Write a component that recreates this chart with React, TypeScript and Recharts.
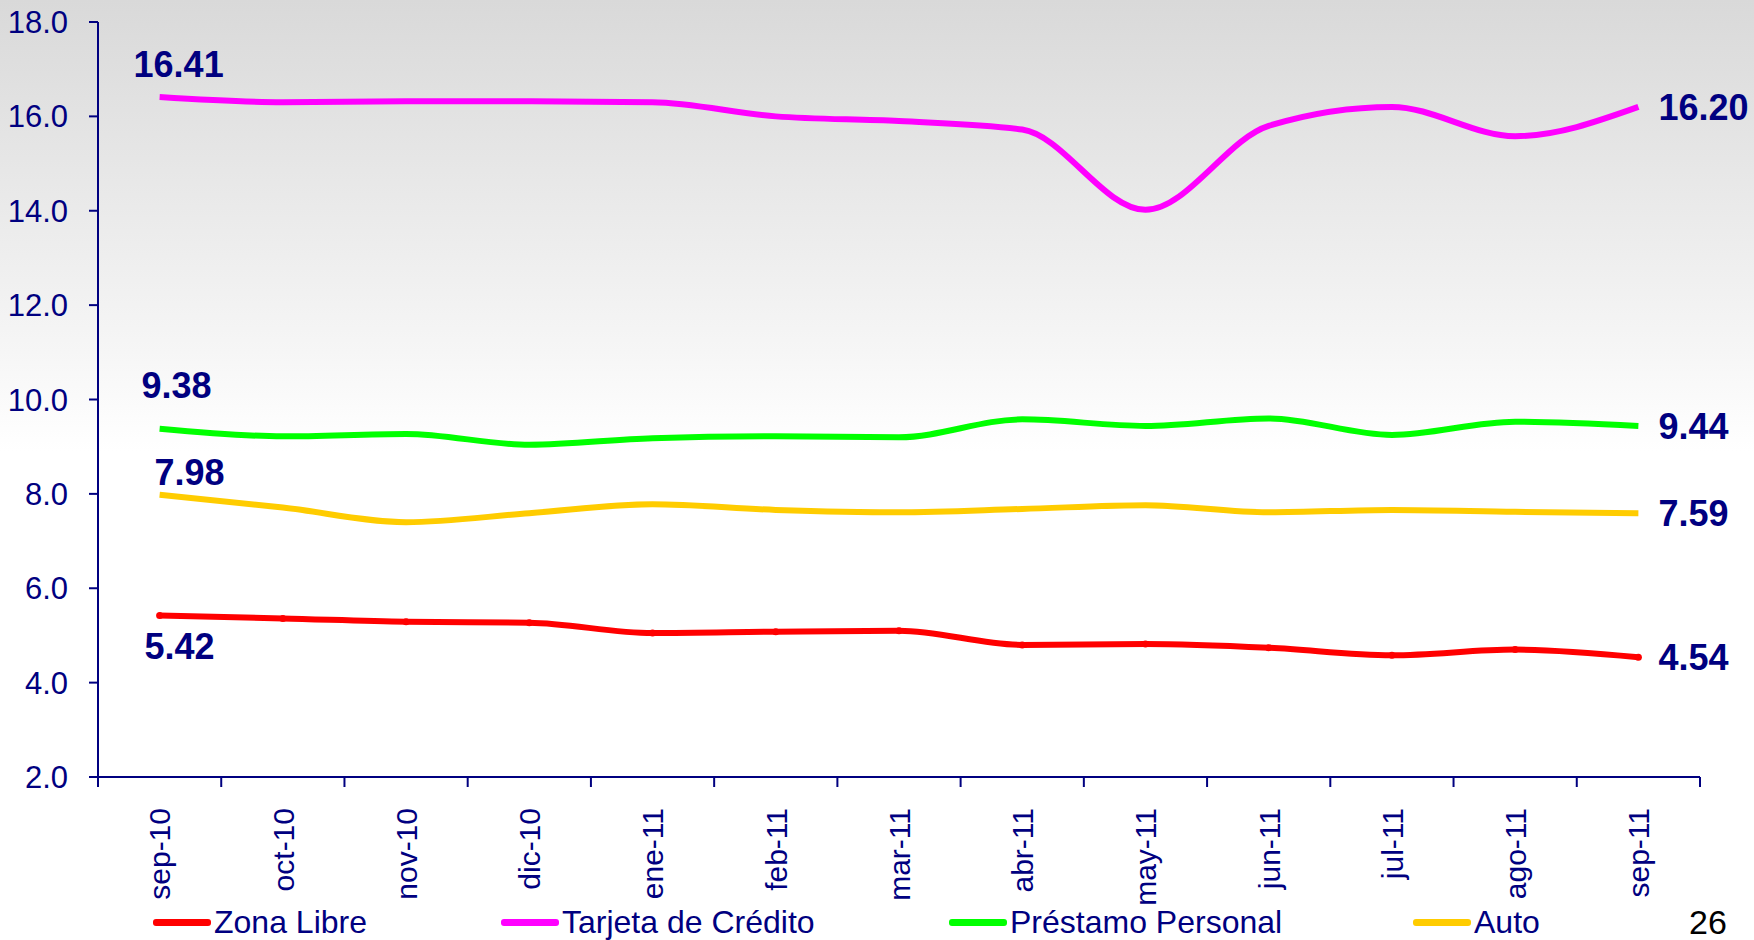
import { LabelList, Line, LineChart, XAxis, YAxis } from "recharts";

const months = [
  "sep-10", "oct-10", "nov-10", "dic-10", "ene-11", "feb-11", "mar-11",
  "abr-11", "may-11", "jun-11", "jul-11", "ago-11", "sep-11",
];
const zonaLibre = [5.42, 5.36, 5.29, 5.27, 5.05, 5.08, 5.1, 4.8, 4.82, 4.74, 4.58, 4.7, 4.54];
const tarjeta = [16.41, 16.3, 16.32, 16.32, 16.3, 16.0, 15.9, 15.72, 14.02, 15.8, 16.2, 15.58, 16.2];
const prestamo = [9.38, 9.22, 9.27, 9.04, 9.18, 9.22, 9.2, 9.58, 9.44, 9.6, 9.25, 9.53, 9.44];
const auto = [7.98, 7.71, 7.4, 7.59, 7.78, 7.66, 7.61, 7.68, 7.76, 7.61, 7.66, 7.62, 7.59];
const yTicks = [2, 4, 6, 8, 10, 12, 14, 16, 18];
// band edges, where the category tick marks sit
const edgeTicks = months.map((_, i) => i - 0.5).concat(months.length - 0.5);

const NAVY = "#000080";
const FONT = '"Liberation Sans", Arial, sans-serif';

const data = months.map((month, i) => ({
  month, i,
  zona: zonaLibre[i], tarjeta: tarjeta[i], prestamo: prestamo[i], auto: auto[i],
}));

// first-point label offset (dx from point to label centre, dy to baseline)
const series = [
  { key: "zona", name: "Zona Libre", color: "#ff0000", dx: 20, dy: 43, dot: true, legendX: 153 },
  { key: "tarjeta", name: "Tarjeta de Crédito", color: "#ff00ff", dx: 19, dy: -20, dot: false, legendX: 501 },
  { key: "prestamo", name: "Préstamo Personal", color: "#00ff00", dx: 17, dy: -31, dot: false, legendX: 949 },
  { key: "auto", name: "Auto", color: "#ffcc00", dx: 30, dy: -10, dot: false, legendX: 1413 },
];

const edgeLabel = (dx: number, dy: number) => (p: any) => {
  const { x, y, value, index } = p;
  if (index === 0) {
    return (
      <text x={x + dx} y={y + dy} textAnchor="middle" fill={NAVY} fontSize={36} fontWeight="bold" fontFamily={FONT}>
        {Number(value).toFixed(2)}
      </text>
    );
  }
  if (index === months.length - 1) {
    return (
      <text x={x + 20} y={y} dy="0.36em" textAnchor="start" fill={NAVY} fontSize={36} fontWeight="bold" fontFamily={FONT}>
        {Number(value).toFixed(2)}
      </text>
    );
  }
  return null;
};

const MonthTick = (p: any) => {
  const { x, y, payload } = p;
  return (
    <text transform={`translate(${x},${y}) rotate(-90)`} dy="0.36em" textAnchor="end" fill={NAVY} fontSize={30} fontFamily={FONT}>
      {payload.value}
    </text>
  );
};

const NoLabel = () => <g />;

export default function App() {
  return (
    <div
      style={{
        position: "relative", width: 1754, height: 940, overflow: "hidden",
        background: "linear-gradient(to bottom, #d9d9d9 0%, #f4f4f4 35%, #ffffff 48%, #ffffff 100%)",
      }}
    >
      <style>{"body{margin:0}"}</style>
      <LineChart width={1754} height={940} data={data} margin={{ top: 22, right: 54, bottom: 0, left: 0 }}>
        <XAxis
          dataKey="i"
          type="number"
          domain={[-0.5, months.length - 0.5]}
          ticks={edgeTicks}
          interval={0}
          height={1}
          tick={<NoLabel />}
          tickLine={{ stroke: NAVY, strokeWidth: 2 }}
          tickSize={10}
          stroke={NAVY}
          strokeWidth={2}
        />
        <XAxis
          xAxisId="lbl"
          dataKey="month"
          type="category"
          scale="band"
          interval={0}
          height={162}
          axisLine={false}
          tickLine={false}
          tickSize={0}
          tickMargin={30}
          tick={<MonthTick />}
        />
        <YAxis
          domain={[2, 18]}
          ticks={yTicks}
          interval={0}
          width={98}
          tickSize={9}
          tickMargin={21}
          stroke={NAVY}
          strokeWidth={2}
          tick={{ fill: NAVY, fontSize: 31, fontFamily: FONT }}
          tickFormatter={(v) => v.toFixed(1)}
        />
        {series.map((s) => (
          <Line
            key={s.key}
            type="monotone"
            dataKey={s.key}
            name={s.name}
            stroke={s.color}
            strokeWidth={6}
            dot={s.dot ? { r: 3.5, fill: s.color, stroke: "none" } : false}
            isAnimationActive={false}
          >
            <LabelList dataKey={s.key} content={edgeLabel(s.dx, s.dy)} />
          </Line>
        ))}
      </LineChart>
      {series.map((s) => (
        <div
          key={s.key}
          style={{
            position: "absolute", left: s.legendX, top: 904, height: 36,
            display: "flex", alignItems: "center", fontFamily: FONT, fontSize: 32, color: NAVY, whiteSpace: "nowrap",
          }}
        >
          <span style={{ display: "inline-block", width: 58, height: 7, borderRadius: 3, background: s.color, marginRight: 3 }} />
          {s.name}
        </div>
      ))}
      <div style={{ position: "absolute", left: 1689, top: 905, fontFamily: FONT, fontSize: 34, lineHeight: "34px", color: "#000" }}>
        26
      </div>
    </div>
  );
}
